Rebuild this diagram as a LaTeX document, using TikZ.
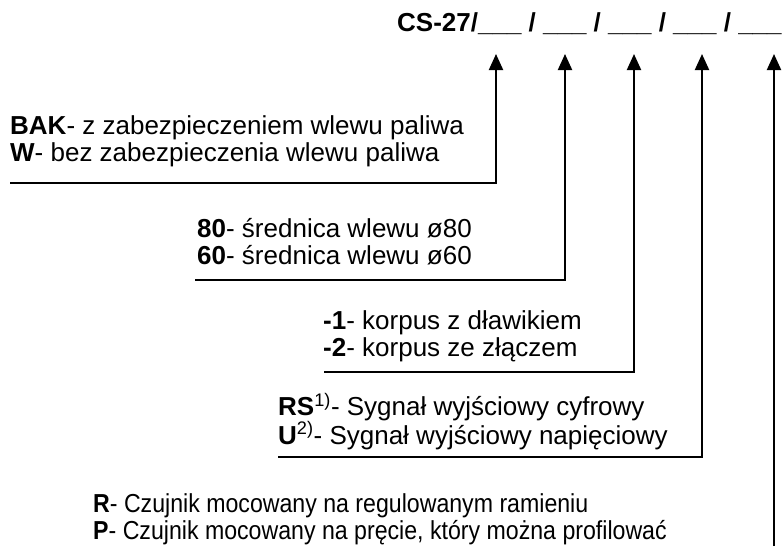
\documentclass[tikz,border=0pt]{standalone}
\usepackage{fontspec}
\setmainfont{Liberation Sans}
\usetikzlibrary{arrows.meta}
\tikzset{
  lbl/.style={anchor=base west, inner sep=0pt, font=\fontsize{26}{30}\selectfont},
  lbltwo/.style={anchor=base west, inner sep=0pt, align=left, font=\fontsize{26}{27}\selectfont},
  ttl/.style={anchor=base west, inner sep=0pt, font=\fontsize{26}{30}\selectfont\bfseries},
  conn/.style={line width=2pt, -{Triangle[width=14pt,length=16pt]}},
}
\newcommand{\narrowtxt}[1]{\scalebox{0.89}[1]{#1}}
\begin{document}
\begin{tikzpicture}[x=1pt,y=-1pt]
\useasboundingbox (0,0) rectangle (784,546);
\node[ttl] (title) at (397,31) {CS-27/\_\_\_ / \_\_\_ / \_\_\_ / \_\_\_ / \_\_\_};
% arrow tips
\coordinate (t1) at (496,54);
\coordinate (t2) at (565,54);
\coordinate (t3) at (634,54);
\coordinate (t4) at (702,54);
\coordinate (t5) at (774,54);
% line ends
\coordinate (e1) at (10,183);
\coordinate (e2) at (195,280);
\coordinate (e3) at (324,372);
\coordinate (e4) at (278,457);
\coordinate (e5) at (774,546);
% texts
\node[lbl] (a1) at (10,134) {\textbf{BAK}- z zabezpieczeniem wlewu paliwa};
\node[lbl] (a2) at (10,161) {\textbf{W}- bez zabezpieczenia wlewu paliwa};
\node[lbl] (b1) at (197,237) {\textbf{80}- średnica wlewu ø80};
\node[lbl] (b2) at (197,264) {\textbf{60}- średnica wlewu ø60};
\node[lbl] (c1) at (323,329) {\textbf{-1}- korpus z dławikiem};
\node[lbl] (c2) at (323,356) {\textbf{-2}- korpus ze złączem};
\node[lbltwo] (d) at (278,444) {\textbf{RS}\textsuperscript{1)}- Sygnał wyjściowy cyfrowy\\
  \textbf{U}\textsuperscript{2)}- Sygnał wyjściowy napięciowy};
\node[lbl] (f1) at (93,512) {\narrowtxt{\textbf{R}- Czujnik mocowany na regulowanym ramieniu}};
\node[lbl] (f2) at (93,539) {\narrowtxt{\textbf{P}- Czujnik mocowany na pręcie, który można profilować}};
% connectors
\draw[conn] (e1) -| (t1);
\draw[conn] (e2) -| (t2);
\draw[conn] (e3) -| (t3);
\draw[conn] (e4) -| (t4);
\draw[conn] (e5) -- (t5);
\end{tikzpicture}
\end{document}
